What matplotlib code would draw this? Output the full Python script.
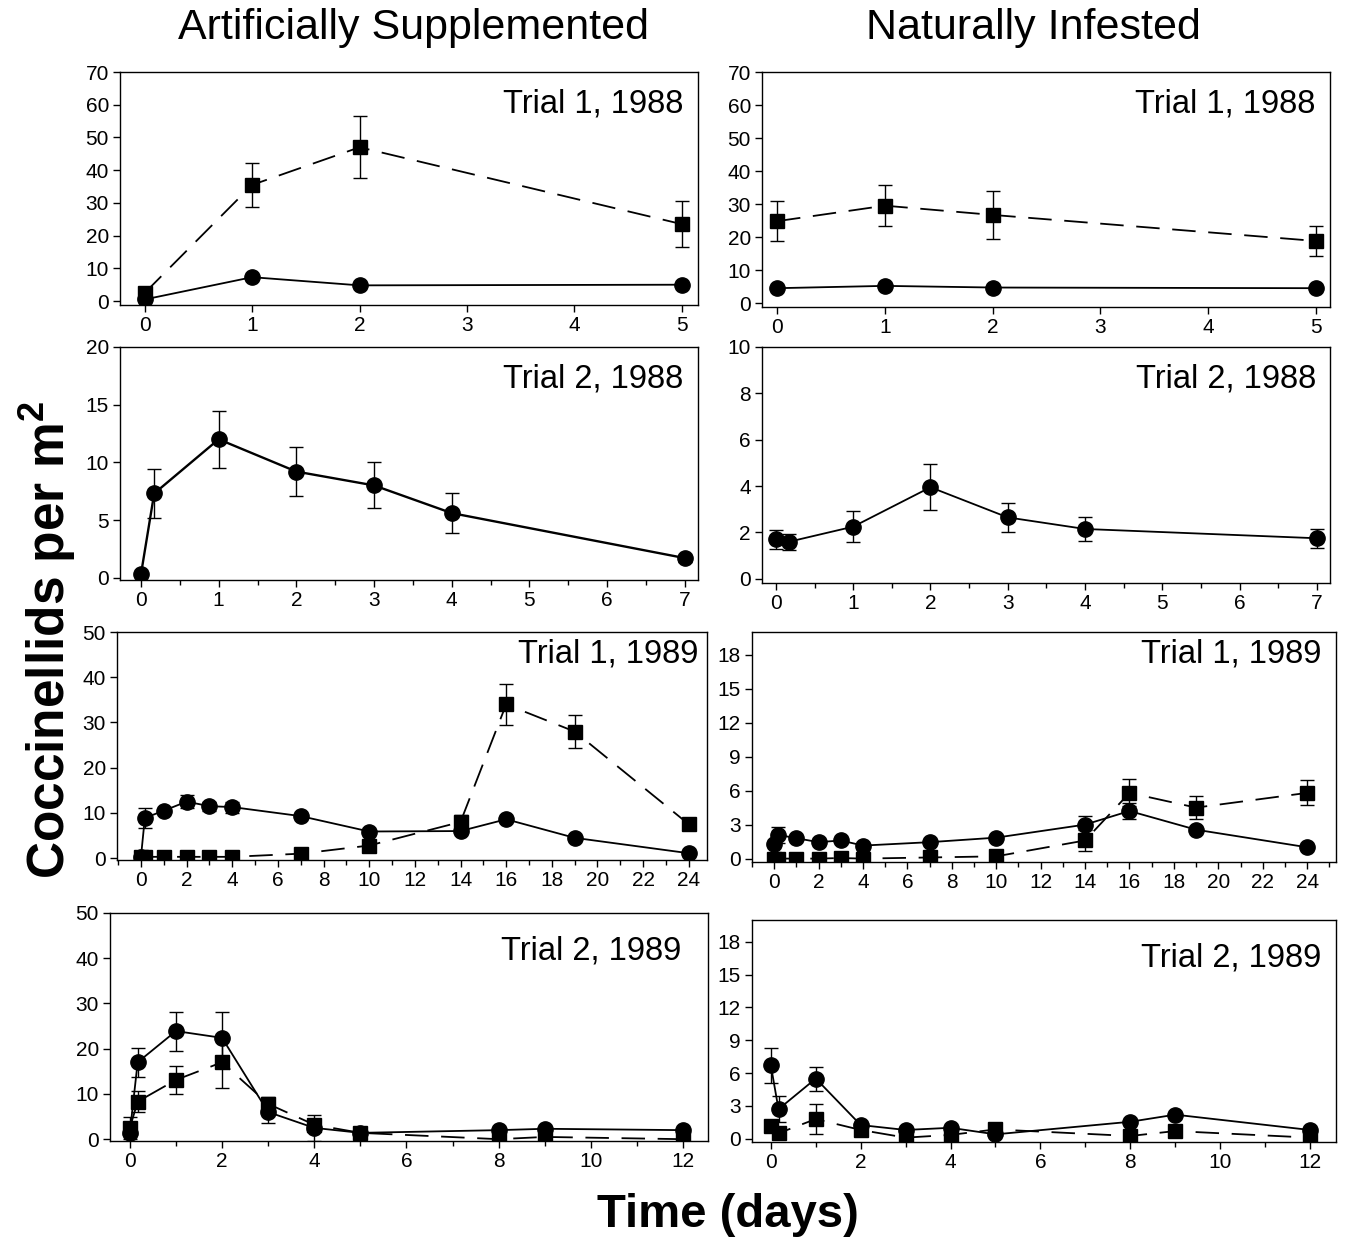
import matplotlib
matplotlib.use('Agg')
import matplotlib.pyplot as plt
from matplotlib.ticker import MultipleLocator
import numpy as np

plt.rcParams['font.family'] = ['Liberation Sans', 'DejaVu Sans']
plt.rcParams['mathtext.fontset'] = 'custom'
plt.rcParams['mathtext.rm'] = 'Liberation Sans'
plt.rcParams['mathtext.bf'] = 'Liberation Sans:bold'

nan = np.nan

# --- Trial 1, 1988 ---
days_88a = [0, 1, 2, 5]
as_88a_sq = [2.5, 35.5, 47.0, 23.5]
as_88a_sq_err = [nan, 6.7, 9.5, 7.0]
as_88a_ci = [0.5, 7.3, 4.8, 5.0]
ni_88a_sq = [24.8, 29.5, 26.7, 18.8]
ni_88a_sq_err = [6.0, 6.2, 7.3, 4.6]
ni_88a_ci = [4.5, 5.2, 4.7, 4.5]

# --- Trial 2, 1988 (circles only) ---
days_88b = [0, 0.17, 1, 2, 3, 4, 7]
as_88b_ci = [0.3, 7.3, 12.0, 9.2, 8.0, 5.6, 1.7]
as_88b_ci_err = [nan, 2.1, 2.45, 2.1, 2.0, 1.7, 0.3]
ni_88b_ci = [1.7, 1.6, 2.25, 3.95, 2.65, 2.15, 1.75]
ni_88b_ci_err = [0.4, 0.35, 0.68, 1.0, 0.62, 0.52, 0.4]

# --- Trial 1, 1989 ---
days_89a = [0, 0.17, 1, 2, 3, 4, 7, 10, 14, 16, 19, 24]
as_89a_sq = [0.3, 0.3, 0.3, 0.3, 0.3, 0.3, 1.0, 2.8, 8.0, 34.0, 28.0, 7.5]
as_89a_sq_err = [1.2, 1.2, 1.2, 1.2, 1.2, 1.2, nan, nan, 1.5, 4.5, 3.6, 1.2]
as_89a_ci = [0.3, 8.9, 10.5, 12.5, 11.5, 11.3, 9.3, 5.9, 6.0, 8.6, 4.5, 1.1]
as_89a_ci_err = [nan, 2.2, nan, 1.5, 1.0, 1.2, nan, nan, nan, nan, nan, nan]
ni_89a_sq = [0.0, 0.0, 0.0, 0.0, 0.05, 0.0, 0.1, 0.2, 1.6, 5.8, 4.5, 5.8]
ni_89a_sq_err = [nan, nan, nan, nan, nan, nan, nan, nan, 0.9, 1.2, 1.0, 1.1]
ni_89a_ci = [1.3, 2.1, 1.8, 1.45, 1.6, 1.15, 1.45, 1.85, 3.0, 4.2, 2.55, 1.0]
ni_89a_ci_err = [nan, 0.7, nan, nan, nan, nan, nan, nan, 0.8, 0.7, nan, nan]

# --- Trial 2, 1989 ---
days_89b = [0, 0.17, 1, 2, 3, 4, 5, 8, 9, 12]
as_89b_sq = [2.5, 8.3, 13.1, 17.0, 7.8, 3.2, 1.4, 0.0, 0.5, 0.0]
as_89b_sq_err = [2.5, 2.3, 3.0, 5.6, 1.5, nan, nan, nan, nan, nan]
as_89b_ci = [1.4, 17.0, 23.9, 22.4, 6.0, 2.5, 1.4, 2.0, 2.3, 2.0]
as_89b_ci_err = [nan, 3.2, 4.3, 5.7, 2.5, 2.8, nan, nan, nan, nan]
ni_89b_sq = [1.2, 0.5, 1.8, 0.8, 0.1, 0.35, 0.85, 0.25, 0.7, 0.1]
ni_89b_sq_err = [0.5, nan, 1.4, nan, nan, nan, nan, nan, nan, nan]
ni_89b_ci = [6.7, 2.7, 5.5, 1.25, 0.8, 1.0, 0.4, 1.55, 2.2, 0.8]
ni_89b_ci_err = [1.6, 1.2, 1.1, nan, nan, nan, nan, nan, nan, nan]

W, H = 1346, 1241
fig = plt.figure(figsize=(W / 100, H / 100), dpi=100)


def add_ax(left, right, top, bottom):
    return fig.add_axes([left / W, 1 - bottom / H, (right - left) / W, (bottom - top) / H])


def series(ax, x, y, err=None, marker='o', dashed=False, lw=1.3, ms=11):
    if err is not None:
        ax.errorbar(x, y, yerr=err, fmt='none', ecolor='black', elinewidth=1.0,
                    capsize=5, capthick=1.0, zorder=2)
    ls = (0, (13, 7)) if dashed else '-'
    ax.plot(x, y, linestyle=ls, color='black', lw=lw, marker=marker,
            markersize=ms, markerfacecolor='black', markeredgecolor='black', zorder=3)


def style(ax, xlim, ylim, xmajor, xminor, ymajor, ymax_tick, label, tx=0.975, ty=0.93):
    ax.set_xlim(*xlim)
    ax.set_ylim(*ylim)
    ax.xaxis.set_major_locator(MultipleLocator(xmajor))
    if xminor:
        ax.xaxis.set_minor_locator(MultipleLocator(xminor))
    ax.set_yticks(np.arange(0, ymax_tick + 0.01, ymajor))
    ax.tick_params(direction='out', length=5, width=1, labelsize=15, pad=3)
    ax.tick_params(which='minor', direction='out', length=3.5, width=1)
    for s in ax.spines.values():
        s.set_linewidth(1.0)
    ax.text(tx, ty, label, transform=ax.transAxes, ha='right', va='top', fontsize=23.5)


# Row 1: Trial 1, 1988
ax = add_ax(120, 698, 72, 305)
series(ax, days_88a, as_88a_sq, as_88a_sq_err, marker='s', dashed=True, ms=10)
series(ax, days_88a, as_88a_ci)
style(ax, (-0.23, 5.15), (-1.2, 70), 1, None, 10, 70, 'Trial 1, 1988')

ax = add_ax(762, 1330, 72, 307)
series(ax, days_88a, ni_88a_sq, ni_88a_sq_err, marker='s', dashed=True, ms=10)
series(ax, days_88a, ni_88a_ci)
style(ax, (-0.14, 5.13), (-1.2, 70), 1, None, 10, 70, 'Trial 1, 1988')

# Row 2: Trial 2, 1988
ax = add_ax(120, 698, 347, 580)
series(ax, days_88b, as_88b_ci, as_88b_ci_err, lw=1.7)
style(ax, (-0.27, 7.17), (-0.2, 20), 1, 0.5, 5, 20, 'Trial 2, 1988')

ax = add_ax(762, 1330, 347, 583)
series(ax, days_88b, ni_88b_ci, ni_88b_ci_err)
style(ax, (-0.18, 7.17), (-0.18, 10), 1, 0.5, 2, 10, 'Trial 2, 1988')

# Row 3: Trial 1, 1989
ax = add_ax(117, 707, 632, 860)
series(ax, days_89a, as_89a_sq, as_89a_sq_err, marker='s', dashed=True, ms=10)
series(ax, days_89a, as_89a_ci, as_89a_ci_err)
style(ax, (-1.05, 24.8), (-0.4, 50), 2, 1, 10, 50, 'Trial 1, 1989', tx=0.985, ty=0.97)

ax = add_ax(752, 1336, 632, 862)
series(ax, days_89a, ni_89a_sq, ni_89a_sq_err, marker='s', dashed=True, ms=10)
series(ax, days_89a, ni_89a_ci, ni_89a_ci_err)
style(ax, (-1.0, 25.3), (-0.3, 20), 2, 1, 3, 18, 'Trial 1, 1989', tx=0.975, ty=0.97)

# Row 4: Trial 2, 1989
ax = add_ax(110, 708, 913, 1141)
series(ax, days_89b, as_89b_sq, as_89b_sq_err, marker='s', dashed=True, ms=10)
series(ax, days_89b, as_89b_ci, as_89b_ci_err)
style(ax, (-0.43, 12.54), (-0.4, 50), 2, 1, 10, 50, 'Trial 2, 1989', tx=0.955, ty=0.9)

ax = add_ax(752, 1336, 920, 1142)
series(ax, days_89b, ni_89b_sq, ni_89b_sq_err, marker='s', dashed=True, ms=10)
series(ax, days_89b, ni_89b_ci, ni_89b_ci_err)
style(ax, (-0.42, 12.58), (-0.3, 20), 2, 1, 3, 18, 'Trial 2, 1989', tx=0.975, ty=0.9)

# column headers and shared labels
fig.text(413 / W, 1 - 28 / H, 'Artificially Supplemented', ha='center', va='center', fontsize=31)
fig.text(1033 / W, 1 - 28 / H, 'Naturally Infested', ha='center', va='center', fontsize=31)
fig.text(48 / W, 1 - 640 / H, r'Coccinellids per m$^{\mathbf{2}}$', rotation=90,
         ha='center', va='center', fontsize=37, fontweight='bold')
fig.text(728 / W, 1 - 1215 / H, 'Time (days)', ha='center', va='center',
         fontsize=34, fontweight='bold')

fig.savefig('out.png', dpi=100, facecolor='white')
